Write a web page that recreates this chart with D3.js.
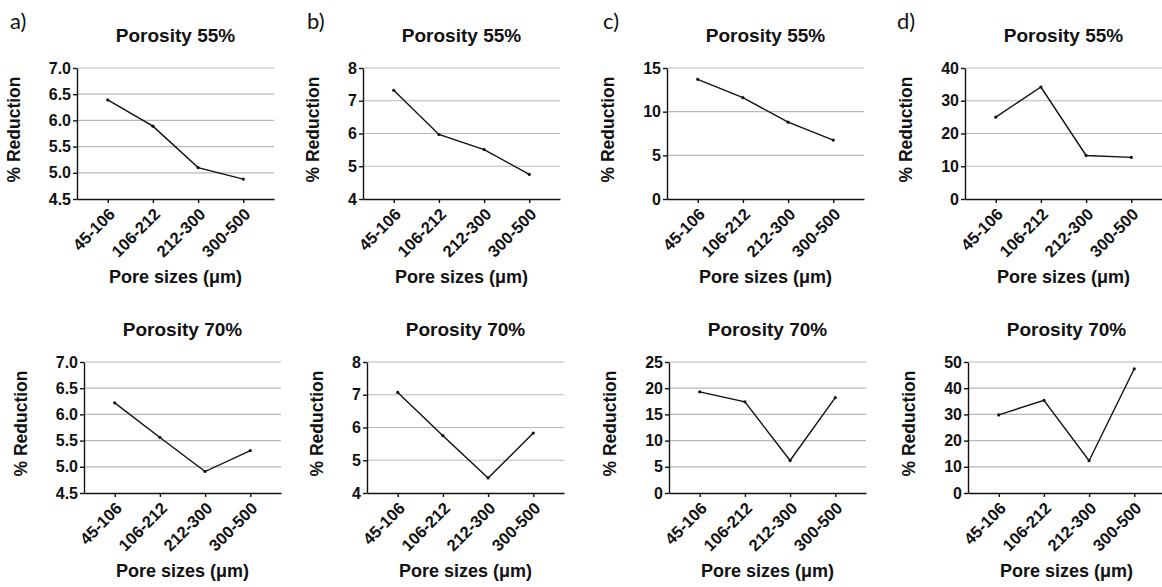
<!DOCTYPE html>
<html>
<head>
<meta charset="utf-8">
<script src="https://cdn.jsdelivr.net/npm/d3@7.9.0/dist/d3.min.js"></script>
<style>
  body { margin: 0; background: #fff; }
  svg { display: block; }
  .tick text { font-family: 'Liberation Sans', Arial, sans-serif; font-weight: bold; fill: #111; }
</style>
</head>
<body>
<div id="chart"></div>
<script>
const poreSizes = ['45-106', '106-212', '212-300', '300-500'];
const panelLetters = ['a)', 'b)', 'c)', 'd)'];
const porosityTitles = ['Porosity 55%', 'Porosity 70%'];

// % reduction, row 0 = porosity 55%, row 1 = porosity 70%
const reductionA = [[6.39, 5.89, 5.10, 4.88], [6.22, 5.56, 4.91, 5.31]];
const reductionB = [[7.32, 5.97, 5.51, 4.75], [7.07, 5.75, 4.46, 5.83]];
const reductionC = [[13.7, 11.6, 8.8, 6.75], [19.3, 17.4, 6.2, 18.2]];
const reductionD = [[25.0, 34.2, 13.3, 12.7], [29.8, 35.4, 12.3, 47.4]];

const yDomainsA = [[4.5, 7], [4.5, 7]];
const yDomainsB = [[4, 8], [4, 8]];
const yDomainsC = [[0, 15], [0, 25]];
const yDomainsD = [[0, 40], [0, 50]];

const yStepsA = [0.5, 0.5];
const yStepsB = [1, 1];
const yStepsC = [5, 5];
const yStepsD = [10, 10];

const yFormats = ['.1f', 'd', 'd', 'd'];

const allValues = [reductionA, reductionB, reductionC, reductionD];
const allDomains = [yDomainsA, yDomainsB, yDomainsC, yDomainsD];
const allSteps = [yStepsA, yStepsB, yStepsC, yStepsD];

// layout
const width = 1162;
const height = 587;
const plotLeft = [[77, 363, 667, 965], [84, 367, 669, 968]];
const plotTop = [68, 362];
const plotW = 197;
const plotH = 131;
const letterX = [10, 307, 603, 897];

const svg = d3.select('#chart')
  .append('svg')
  .attr('width', width)
  .attr('height', height);

const font = "'Liberation Sans', Arial, sans-serif";

svg.selectAll('text.letter')
  .data(panelLetters)
  .join('text')
  .attr('class', 'letter')
  .attr('x', (d, i) => letterX[i])
  .attr('y', 29)
  .style('font-family', "Lato, 'Open Sans', sans-serif")
  .style('font-size', '22px')
  .attr('fill', '#111')
  .text((d) => d);

function drawPanel(col, row) {
  const left = plotLeft[row][col];
  const top = plotTop[row];
  const values = allValues[col][row];
  const [y0, y1] = allDomains[col][row];
  const step = allSteps[col][row];

  const x = d3.scalePoint()
    .domain(poreSizes)
    .range([left, left + plotW])
    .padding(0.68);

  const y = d3.scaleLinear()
    .domain([y0, y1])
    .range([top + plotH, top]);

  const ticks = d3.range(y0, y1 + step / 2, step);

  const g = svg.append('g');

  // gridlines
  g.append('g')
    .selectAll('line')
    .data(ticks.slice(1))
    .join('line')
    .attr('x1', left)
    .attr('x2', left + plotW)
    .attr('y1', (d) => y(d))
    .attr('y2', (d) => y(d))
    .attr('stroke', '#b8b8b8')
    .attr('stroke-width', 1.2);

  const yAxis = g.append('g')
    .attr('transform', `translate(${left},0)`)
    .call(d3.axisLeft(y).tickValues(ticks).tickFormat(d3.format(yFormats[col])).tickSize(4).tickSizeOuter(0).tickPadding(2));
  yAxis.selectAll('text').style('font-size', '16px');

  const xAxis = g.append('g')
    .attr('transform', `translate(0,${top + plotH})`)
    .call(d3.axisBottom(x).tickSize(4).tickSizeOuter(0));
  xAxis.selectAll('text')
    .style('font-size', '16.5px')
    .attr('text-anchor', 'end')
    .attr('transform', 'rotate(-45)')
    .attr('dx', 0)
    .attr('dy', '0.55em')
    .attr('x', -6)
    .attr('y', 8);

  g.selectAll('.domain, .tick line')
    .attr('stroke', '#111')
    .attr('stroke-width', 1.4);

  const line = d3.line()
    .x((d, i) => x(poreSizes[i]))
    .y((d) => y(d));

  g.append('path')
    .datum(values)
    .attr('d', line)
    .attr('fill', 'none')
    .attr('stroke', '#111')
    .attr('stroke-width', 1.4);

  g.append('g')
    .selectAll('circle')
    .data(values)
    .join('circle')
    .attr('cx', (d, i) => x(poreSizes[i]))
    .attr('cy', (d) => y(d))
    .attr('r', 1.6)
    .attr('fill', '#111');

  // title
  g.append('text')
    .attr('x', left + plotW / 2)
    .attr('y', top - 26)
    .attr('text-anchor', 'middle')
    .style('font-family', font)
    .style('font-weight', 'bold')
    .style('font-size', '19px')
    .attr('fill', '#111')
    .text(porosityTitles[row]);

  // y label, placed relative to the tick labels
  const tickLeft = left + yAxis.node().getBBox().x;
  g.append('text')
    .attr('transform', `translate(${tickLeft - 29},${top + plotH / 2 - 4}) rotate(-90)`)
    .attr('text-anchor', 'middle')
    .style('font-family', font)
    .style('font-weight', 'bold')
    .style('font-size', '17.5px')
    .attr('fill', '#111')
    .text('% Reduction');

  // x label
  g.append('text')
    .attr('x', left + plotW / 2)
    .attr('y', top + plotH + 84)
    .attr('text-anchor', 'middle')
    .style('font-family', font)
    .style('font-weight', 'bold')
    .style('font-size', '18px')
    .attr('fill', '#111')
    .text('Pore sizes (μm)');
}

for (let row = 0; row < 2; row++) {
  for (let col = 0; col < 4; col++) {
    drawPanel(col, row);
  }
}
</script>
</body>
</html>
